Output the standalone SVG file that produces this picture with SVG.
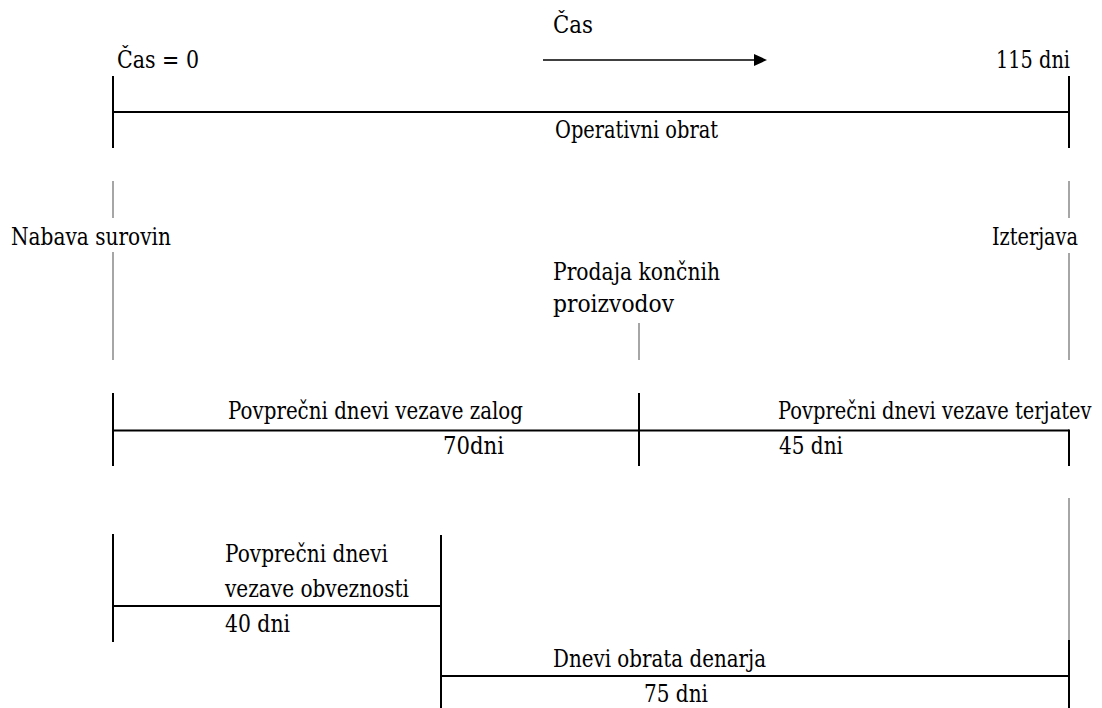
<svg xmlns="http://www.w3.org/2000/svg" width="1102" height="708" viewBox="0 0 1102 708">
  <style>
    .t { font-family: 'DejaVu Serif', 'Liberation Serif', serif; font-size: 24px; fill: #000; }
    .bk { stroke: #000; stroke-width: 2; fill: none; }
    .gr { stroke: #a6a6a6; stroke-width: 2; fill: none; }
    .ar { stroke: #000; stroke-width: 1.5; fill: none; }
  </style>
  <rect width="1102" height="708" fill="#fff"/>

  <g id="connectors">
    <line class="bk" x1="113" y1="76" x2="113" y2="148"/>
    <line class="bk" x1="113" y1="112" x2="1069" y2="112"/>
    <line class="bk" x1="1069" y1="76" x2="1069" y2="148"/>
    <line class="ar" x1="543" y1="60" x2="756" y2="60"/>
    <polygon points="754,54 767,60 754,66" fill="#000"/>
    <line class="gr" x1="113" y1="181" x2="113" y2="218"/>
    <line class="gr" x1="113" y1="252" x2="113" y2="360"/>
    <line class="gr" x1="1069" y1="181" x2="1069" y2="218"/>
    <line class="gr" x1="1069" y1="253" x2="1069" y2="360"/>
    <line class="gr" x1="639" y1="323" x2="639" y2="360"/>
    <line class="gr" x1="1069" y1="498" x2="1069" y2="640"/>
    <line class="bk" x1="113" y1="393" x2="113" y2="466"/>
    <line class="bk" x1="113" y1="430.5" x2="1069" y2="430.5"/>
    <line class="bk" x1="639" y1="393" x2="639" y2="466"/>
    <line class="bk" x1="1069" y1="429.5" x2="1069" y2="466"/>
    <line class="bk" x1="113" y1="534" x2="113" y2="642"/>
    <line class="bk" x1="113" y1="606" x2="441" y2="606"/>
    <line class="bk" x1="441" y1="535" x2="441" y2="708"/>
    <line class="bk" x1="441" y1="676" x2="1069" y2="676"/>
    <line class="bk" x1="1069" y1="640" x2="1069" y2="708"/>
  </g>

  <g class="t">
    <g id="cas"><text x="553" y="33" textLength="40" lengthAdjust="spacingAndGlyphs">Čas</text></g>
    <g id="cas0"><text x="117" y="68" textLength="82" lengthAdjust="spacingAndGlyphs">Čas = 0</text></g>
    <g id="dni115"><text x="996" y="68" textLength="74" lengthAdjust="spacingAndGlyphs">115 dni</text></g>
    <g id="operativni"><text x="555" y="138" textLength="163" lengthAdjust="spacingAndGlyphs">Operativni obrat</text></g>
    <g id="nabava"><text x="11" y="245" textLength="160" lengthAdjust="spacingAndGlyphs">Nabava surovin</text></g>
    <g id="izterjava"><text x="992" y="245" textLength="86" lengthAdjust="spacingAndGlyphs">Izterjava</text></g>
    <g id="prodaja">
      <text x="553" y="280" textLength="167" lengthAdjust="spacingAndGlyphs">Prodaja končnih</text>
      <text x="553" y="312" textLength="121" lengthAdjust="spacingAndGlyphs">proizvodov</text>
    </g>
    <g id="zaloge">
      <text x="228" y="419" textLength="295" lengthAdjust="spacingAndGlyphs">Povprečni dnevi vezave zalog</text>
      <text x="443" y="454" textLength="61" lengthAdjust="spacingAndGlyphs">70dni</text>
    </g>
    <g id="terjatve">
      <text transform="translate(778,419) scale(0.78,1)" x="0" y="0" textLength="402" lengthAdjust="spacingAndGlyphs">Povprečni dnevi vezave terjatev</text>
      <text x="779" y="454" textLength="64" lengthAdjust="spacingAndGlyphs">45 dni</text>
    </g>
    <g id="obveznosti">
      <text x="225" y="562" textLength="163" lengthAdjust="spacingAndGlyphs">Povprečni dnevi</text>
      <text x="225" y="597" textLength="184" lengthAdjust="spacingAndGlyphs">vezave obveznosti</text>
      <text x="225" y="632" textLength="65" lengthAdjust="spacingAndGlyphs">40 dni</text>
    </g>
    <g id="denar">
      <text x="553" y="667" textLength="213" lengthAdjust="spacingAndGlyphs">Dnevi obrata denarja</text>
      <text x="644" y="702" textLength="64" lengthAdjust="spacingAndGlyphs">75 dni</text>
    </g>
  </g>
</svg>
